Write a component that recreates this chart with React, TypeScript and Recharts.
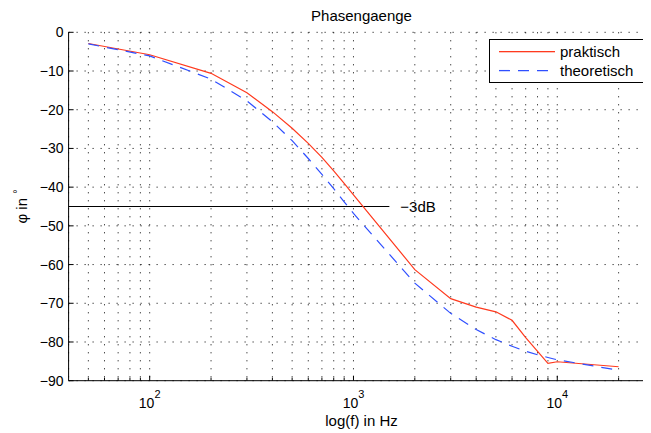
import React from 'react';
import { LineChart, Line, XAxis, YAxis, CartesianGrid, ReferenceLine, Legend } from 'recharts';

const frequencies = [50, 100, 200, 300, 400, 500, 600, 700, 800, 900, 1000, 2000, 3000, 4000, 5000, 6000, 7000, 8000, 9000, 10000, 20000];
const praktisch = [-2.9, -5.8, -10.6, -15.6, -20.5, -24.8, -28.7, -32.3, -35.8, -39.0, -42.0, -61.3, -68.8, -71.0, -72.2, -74.4, -78.9, null, -85.5, -85.1, -86.4];
const theoretisch = [-3.0, -6.1, -12.1, -17.7, -23.1, -28.0, -32.6, -36.7, -40.4, -43.8, -46.8, -64.8, -72.6, -76.8, -79.4, -81.1, -82.4, -83.3, -84.0, -84.6, -87.3];

const seriesNames = ['praktisch', 'theoretisch'];
const gridFrequencies = [50, 60, 70, 80, 90, 100, 200, 300, 400, 500, 600, 700, 800, 900, 1000, 2000, 3000, 4000, 5000, 6000, 7000, 8000, 9000, 10000, 20000];
const decadeTicks = [100, 1000, 10000];
const decadeExponents = ['2', '3', '4'];
const phaseTicks = [-90, -80, -70, -60, -50, -40, -30, -20, -10, 0];
const xDomain = [40, 30000];
const yDomain = [-90, 0];
const cutoffPhase = -45;
const cutoffLineStart = 40;
const cutoffLineEnd = 1500;
const cutoffLabel = '\u22123dB';
const title = 'Phasengaenge';
const xLabel = 'log(f) in Hz';

const FONT = '"Liberation Sans", Arial, Helvetica, sans-serif';
const RED = '#ff3a1e';
const BLUE = '#2f4fff';
const seriesColors = [RED, BLUE];
const seriesDash = [undefined, '11 8'];

const data = frequencies.map((f, i) => ({ f, praktisch: praktisch[i], theoretisch: theoretisch[i] }));

const fmtMinus = (v: number) => (v < 0 ? '\u2212' + Math.abs(v) : String(v));

const BottomTick = (props: any) => {
  const { x, y, payload } = props;
  const idx = decadeTicks.indexOf(payload.value);
  const major = idx >= 0;
  return (
    <g>
      <line x1={x} x2={x} y1={y} y2={y - (major ? 5 : 3)} stroke="#000" strokeWidth={1} />
      {major && (
        <text x={x} y={y + 27.5} textAnchor="middle" fontSize={14} fontFamily={FONT} fill="#000">
          <tspan>10</tspan>
          <tspan dy={-10} fontSize={11}>{decadeExponents[idx]}</tspan>
        </text>
      )}
    </g>
  );
};

const TopTick = (props: any) => {
  const { x, y, payload } = props;
  const major = decadeTicks.indexOf(payload.value) >= 0;
  return <line x1={x} x2={x} y1={y} y2={y + (major ? 5 : 3)} stroke="#000" strokeWidth={1} />;
};

const LeftTick = (props: any) => {
  const { x, y, payload } = props;
  return (
    <g>
      <line x1={x} x2={x + 5} y1={y} y2={y} stroke="#000" strokeWidth={1} />
      <text x={x - 5} y={y} dy="0.36em" textAnchor="end" fontSize={14} fontFamily={FONT} fill="#000">
        {fmtMinus(payload.value)}
      </text>
    </g>
  );
};

const LegendBox = () => (
  <svg width={155} height={44} style={{ display: 'block' }}>
    <rect x={0.5} y={0.5} width={154} height={43} fill="#fff" stroke="#000" strokeWidth={1} />
    {seriesNames.map((name, i) => (
      <g key={name}>
        <rect
          x={10}
          y={12 + i * 19}
          width={56}
          height={1.3}
          fill={i === 0 ? seriesColors[i] : 'none'}
        />
        {i === 1 && (
          <path
            d={`M10,${12.6 + i * 19}H66`}
            fill="none"
            stroke={seriesColors[i]}
            strokeWidth={1.3}
            strokeDasharray={seriesDash[i]}
          />
        )}
        <text x={71} y={12.5 + i * 19} dy="0.36em" fontSize={15} fontFamily={FONT} fill="#000">
          {name}
        </text>
      </g>
    ))}
  </svg>
);

export default function App() {
  return (
    <div style={{ position: 'relative', width: 643, height: 425, overflow: 'hidden', background: '#fff' }}>
      <LineChart
        width={660}
        height={425}
        data={data}
        margin={{ top: 24.3, right: 13.5, bottom: 22.3, left: 10.6 }}
      >
        <CartesianGrid stroke="#000" strokeDasharray="1 7" strokeWidth={1} />
        <XAxis
          dataKey="f"
          type="number"
          scale="log"
          domain={xDomain}
          allowDataOverflow
          ticks={gridFrequencies}
          interval={0}
          tickSize={0}
          tickMargin={0}
          height={30}
          axisLine={{ stroke: '#000', strokeWidth: 1 }}
          tickLine={false}
          tick={BottomTick}
        />
        <XAxis
          xAxisId="top"
          orientation="top"
          dataKey="f"
          type="number"
          scale="log"
          domain={xDomain}
          allowDataOverflow
          ticks={gridFrequencies}
          interval={0}
          tickSize={0}
          tickMargin={0}
          height={0}
          axisLine={{ stroke: '#000', strokeWidth: 1 }}
          tickLine={false}
          tick={TopTick}
        />
        <YAxis
          type="number"
          domain={yDomain}
          ticks={phaseTicks}
          interval={0}
          width={50}
          tickSize={0}
          tickMargin={0}
          axisLine={{ stroke: '#000', strokeWidth: 1 }}
          tickLine={false}
          tick={LeftTick}
        />
        <ReferenceLine
          segment={[
            { x: cutoffLineStart, y: cutoffPhase },
            { x: cutoffLineEnd, y: cutoffPhase },
          ]}
          stroke="#000"
          strokeWidth={1}
          ifOverflow="extendDomain"
          label={{ value: cutoffLabel, position: 'right', offset: 11, fontSize: 15, fill: '#000', fontFamily: FONT }}
        />
        <Line
          type="linear"
          dataKey="praktisch"
          name={seriesNames[0]}
          stroke={RED}
          strokeWidth={1.2}
          dot={false}
          connectNulls
          isAnimationActive={false}
        />
        <Line
          type="linear"
          dataKey="theoretisch"
          name={seriesNames[1]}
          stroke={BLUE}
          strokeWidth={1.2}
          strokeDasharray="11 8"
          dot={false}
          isAnimationActive={false}
        />
        <Legend
          layout="horizontal"
          verticalAlign="middle"
          align="center"
          content={LegendBox}
          wrapperStyle={{ left: 481, top: 31, width: 155, height: 44 }}
        />
      </LineChart>
      <svg
        width={643}
        height={425}
        style={{ position: 'absolute', left: 0, top: 0, pointerEvents: 'none' }}
      >
        <text x={353.5} y={13} textAnchor="middle" fontSize={15} fontFamily={FONT} fill="#000">
          {title}
        </text>
        <text x={353.5} y={418} textAnchor="middle" fontSize={15} fontFamily={FONT} fill="#000">
          {xLabel}
        </text>
        <text
          x={18.5}
          y={198.5}
          textAnchor="middle"
          fontSize={15}
          fontFamily={FONT}
          fill="#000"
          transform="rotate(-90 18.5 198.5)"
        >
          <tspan>{'\u03c6 in '}</tspan>
          <tspan fontSize={11} dy={-6}>{'\u00b0'}</tspan>
        </text>
      </svg>
    </div>
  );
}
